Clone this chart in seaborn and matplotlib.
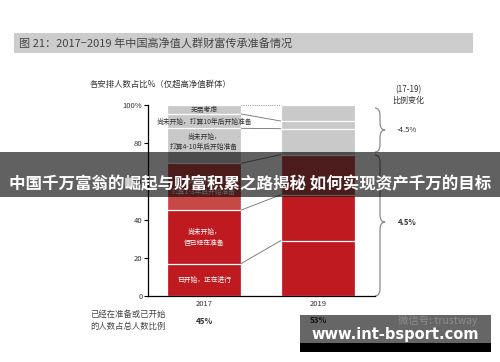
"""
2017-2019 wealth transfer preparation among HNWIs, stacked bars
"""

import matplotlib
matplotlib.use('Agg')
import matplotlib.pyplot as plt
from matplotlib.patches import Rectangle, PathPatch
from matplotlib.path import Path
import seaborn as sns
import pandas as pd
import numpy as np


# Data
years = ['2017', '2019']
segments = ['已开始，正在进行', '尚未开始，\n但已经在准备', '尚未开始，\n打算1-3年后开始准备',
            '尚未开始，\n打算4-10年后开始准备', '尚未开始，打算10年后开始准备', '无需考虑']
share_2017 = [17.0, 28.0, 24.5, 18.3, 7.5, 4.7]
share_2019 = [29.0, 24.0, 21.0, 13.6, 4.0, 8.4]
change_labels = ['-4.5%', '4.5%']
prepared_labels = ['45%', '53%']
yticks = [0, 20, 40, 60, 80, 100]
ytick_labels = ['0', '20', '40', '60', '80', '100%']

# Styles
seg_colors = ['#c01a21', '#c01a21', '#c84848', '#c9c9c9', '#c9c9c9', '#c9c9c9']
seg_text = ['white', 'white', 'white', '#333333', '#333333', '#333333']
label_y = [8.4, 30.5, 57.5, 80.6, 91.3, 97.4]
W, H = 500, 362
bar_w = 0.654


def fx(x):
    return x / W


def fy(y):
    return 1 - y / H


def brace(ax, x0, x1, yt, yb, ym, r):
    """
    Draw a right pointing curly brace in data coordinates
    """
    xm = (x0 + x1) / 2
    verts = [(x0, yt), (xm, yt), (xm, yt - r), (xm, ym + r), (xm, ym), (x1, ym),
             (xm, ym), (xm, ym - r), (xm, yb + r), (xm, yb), (x0, yb)]
    codes = [Path.MOVETO, Path.CURVE3, Path.CURVE3, Path.LINETO, Path.CURVE3, Path.CURVE3,
             Path.CURVE3, Path.CURVE3, Path.LINETO, Path.CURVE3, Path.CURVE3]
    ax.add_patch(PathPatch(Path(verts, codes), facecolor='none', edgecolor='#8c8c8c',
                           lw=0.9, clip_on=False))


def main():
    sns.set_style('white')
    plt.rcParams['font.family'] = ['Noto Sans CJK SC', 'DejaVu Sans']

    # Cumulative tops for overplotted stacking
    rows = []
    for yr, vals in zip(years, [share_2017, share_2019]):
        tops = np.cumsum(vals)
        for seg, top in zip(segments, tops):
            rows.append({'year': yr, 'segment': seg, 'top': top})
    df = pd.DataFrame(rows)

    fig = plt.figure(figsize=(W / 100, H / 100), dpi=100)
    ax = fig.add_axes([fx(148), 66 / H, 227 / W, 191 / H])

    # Draw from the top segment down
    for i in range(len(segments) - 1, -1, -1):
        sub = df[df['segment'] == segments[i]]
        sns.barplot(data=sub, x='year', y='top', color=seg_colors[i], saturation=1,
                    width=bar_w, edgecolor='white', linewidth=0.9, errorbar=None, ax=ax)

    # Connecting lines between bar boundaries
    t17 = np.cumsum(share_2017)
    t19 = np.cumsum(share_2019)
    for k in range(len(segments)):
        ls = ':' if k == len(segments) - 1 else '-'
        ax.plot([bar_w / 2, 1 - bar_w / 2], [t17[k], t19[k]], color='#6e6e6e',
                lw=0.6, ls=ls, clip_on=False)

    # Segment labels on the 2017 bar
    for seg, yy, c in zip(segments, label_y, seg_text):
        ax.text(0, yy, seg, ha='center', va='center', color=c, fontsize=4.9,
                linespacing=1.45)

    # Axes
    ax.set_xlim(-0.491, 1.5)
    ax.set_ylim(0, 100)
    ax.set_yticks(yticks)
    ax.set_yticklabels(ytick_labels)
    ax.set_xlabel('')
    ax.set_ylabel('')
    ax.tick_params(axis='y', length=3, width=0.8, pad=1, labelsize=5.5,
                   labelcolor='#333333', color='black', left=True)
    ax.tick_params(axis='x', length=0, pad=3, labelsize=5.5, labelcolor='#333333')
    sns.despine(ax=ax)
    for s in ['left', 'bottom']:
        ax.spines[s].set_color('black')
        ax.spines[s].set_linewidth(0.9)

    # Braces and changes
    brace(ax, 1.5, 1.588, 98.4, 75.4, 86.9, 4)
    brace(ax, 1.5, 1.588, 73.8, 0, 38.7, 4)
    ax.text(1.693, 86.9, change_labels[0], ha='left', va='center', fontsize=5.5,
            color='#333333', clip_on=False)
    ax.text(1.70, 38.7, change_labels[1], ha='left', va='center', fontsize=5.5,
            color='#333333', fontweight='bold', clip_on=False)
    fig.text(fx(408), fy(89.5), '(17-19)', ha='center', va='center', fontsize=5.8,
             color='#333333')
    fig.text(fx(408), fy(100.5), '比例变化', ha='center', va='center', fontsize=5.8,
             color='#333333')

    # Header band and title
    fig.add_artist(Rectangle((fx(14), fy(53)), 459 / W, 20 / H, transform=fig.transFigure,
                             facecolor='#cccccc', edgecolor='none', zorder=1))
    fig.text(fx(19), fy(43), '图 21：2017−2019 年中国高净值人群财富传承准备情况',
             ha='left', va='center', fontsize=8, color='#444444', zorder=2)
    fig.text(fx(90), fy(84.5), '各安排人数占比%（仅超高净值群体）', ha='left', va='center',
             fontsize=6, color='#333333')

    # Bottom row
    fig.text(fx(90), fy(320.5), '已经在准备或已开始\n的人数占总人数比例', ha='left',
             va='center', fontsize=6, color='#444444', linespacing=1.3)
    fig.text(fx(204), fy(321), prepared_labels[0], ha='center', va='center', fontsize=5.8,
             fontweight='bold', color='#333333')
    fig.text(fx(318), fy(320.5), prepared_labels[1], ha='center', va='center', fontsize=5.8,
             fontweight='bold', color='#333333', zorder=3)

    # Overlay banner
    fig.add_artist(Rectangle((0, fy(197)), 1, 45 / H, transform=fig.transFigure,
                             facecolor='black', alpha=0.62, edgecolor='none', zorder=5))
    fig.text(0.5, fy(184), '中国千万富翁的崛起与财富积累之路揭秘 如何实现资产千万的目标',
             ha='center', va='center', fontsize=11.9, fontweight='bold', color='white',
             zorder=6)

    # Watermark box
    fig.add_artist(Rectangle((fx(300), fy(352)), 191 / W, 37 / H, transform=fig.transFigure,
                             facecolor='black', alpha=0.6, edgecolor='none', zorder=5))
    fig.add_artist(Rectangle((fx(300), fy(352)), 191 / W, 9 / H, transform=fig.transFigure,
                             facecolor='black', edgecolor='none', zorder=5))
    fig.text(fx(438), fy(320.5), '微信号: trustway', ha='center', va='center', fontsize=7.5,
             color='#8c8c8c', zorder=6)
    fig.text(fx(395), fy(334), 'www.int-bsport.com', ha='center', va='center',
             fontsize=10.5, fontweight='bold', color='white', family='DejaVu Sans', zorder=6)

    fig.savefig('out.png', dpi=100, facecolor='white')


if __name__ == '__main__':
    main()
